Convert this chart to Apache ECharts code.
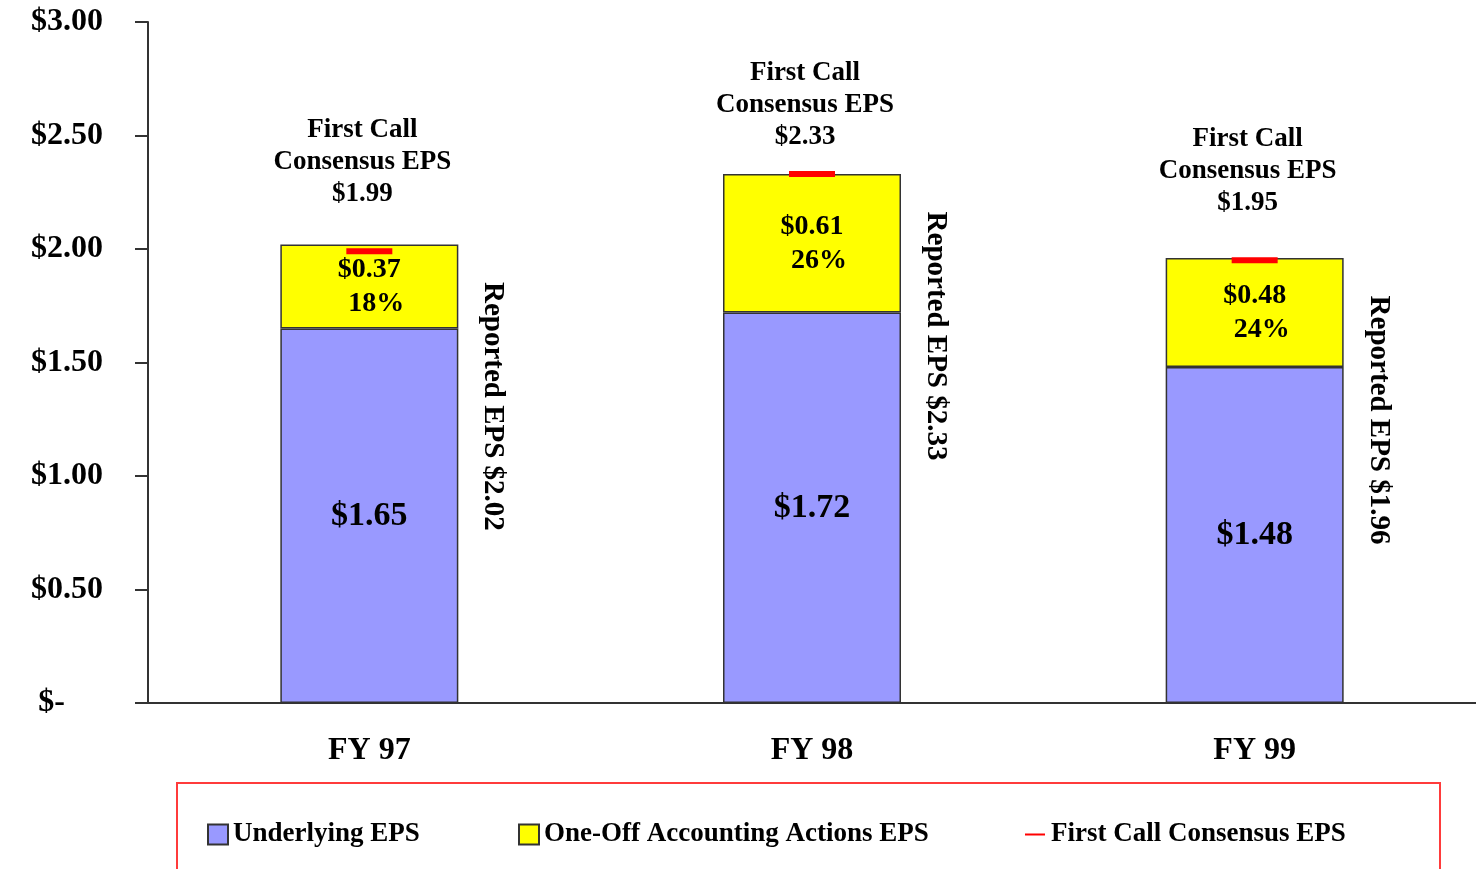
<!DOCTYPE html>
<html>
<head>
<meta charset="utf-8">
<script src="https://cdn.jsdelivr.net/npm/echarts@6/dist/echarts.min.js"></script>
<style>
  html, body { margin: 0; padding: 0; background: #fff; }
  #chart { width: 1476px; height: 869px; }
</style>
</head>
<body>
<div id="chart"></div>
<script>
const categories = ['FY 97', 'FY 98', 'FY 99'];
const underlying = [1.65, 1.72, 1.48];
const oneOff = [0.37, 0.61, 0.48];
const oneOffPct = ['18%', '26%', '24%'];
const consensus = [1.99, 2.33, 1.95];
const reported = [2.02, 2.33, 1.96];
const yTicks = [0, 0.5, 1, 1.5, 2, 2.5, 3];

const FONT = '"Liberation Serif", "DejaVu Serif", serif';
const money = (v) => '$' + v.toFixed(2);

const chart = echarts.init(document.getElementById('chart'));

const legendText = { color: '#000', fontFamily: FONT, fontWeight: 'bold', fontSize: 27 };

// the FY 98 consensus note sits closer to its marker in the original
const consensusData = consensus.map((v, i) => (i === 1 ? { value: v, label: { distance: 18 } } : v));

const option = {
  animation: false,
  grid: { left: 148, right: 0, top: 22, bottom: 166 },
  xAxis: {
    type: 'category',
    data: categories,
    axisLine: { lineStyle: { color: '#333', width: 2 } },
    axisTick: { length: 10, lineStyle: { color: '#333', width: 2 } },
    axisLabel: { color: '#000', fontFamily: FONT, fontWeight: 'bold', fontSize: 32, margin: 32 }
  },
  yAxis: {
    type: 'value',
    min: yTicks[0],
    max: yTicks[yTicks.length - 1],
    interval: 0.5,
    splitLine: { show: false },
    axisLine: { show: true, lineStyle: { color: '#333', width: 2 } },
    axisTick: { show: true, length: 13, lineStyle: { color: '#333', width: 2 } },
    axisLabel: {
      color: '#000', fontFamily: FONT, fontWeight: 'bold', fontSize: 32, margin: 45,
      formatter: (v) => v === 0 ? '{z|$-}' : money(v),
      rich: { z: { color: '#000', fontFamily: FONT, fontWeight: 'bold', fontSize: 32, padding: [0, 38, 0, 0] } }
    }
  },
  legend: [
    { left: 207, top: 821, padding: 0, itemWidth: 20, itemHeight: 20, textStyle: legendText,
      data: [{ name: 'Underlying EPS', icon: 'rect' }] },
    { left: 518, top: 821, padding: 0, itemWidth: 20, itemHeight: 20, textStyle: legendText,
      data: [{ name: 'One-Off Accounting Actions EPS', icon: 'rect' }] },
    { left: 1025, top: 821, padding: 0, itemWidth: 22, itemHeight: 20, textStyle: legendText,
      data: [{ name: 'First Call Consensus EPS', icon: 'path://M0,0M20,20M0,9L20,9L20,11L0,11Z' }] }
  ],
  graphic: [{
    type: 'rect',
    shape: { x: 177, y: 783, width: 1263, height: 110 },
    style: { fill: 'none', stroke: '#ff3b3b', lineWidth: 2 },
    silent: true
  }],
  series: [
    {
      name: 'Underlying EPS',
      type: 'bar',
      stack: 'eps',
      barWidth: 178,
      data: underlying,
      itemStyle: { color: '#9999ff', borderColor: '#333', borderWidth: 1.5 },
      label: {
        show: true, position: 'inside', color: '#000',
        fontFamily: FONT, fontWeight: 'bold', fontSize: 34,
        formatter: (p) => money(p.value)
      }
    },
    {
      name: 'One-Off Accounting Actions EPS',
      type: 'bar',
      stack: 'eps',
      barWidth: 178,
      data: oneOff,
      itemStyle: { color: '#ffff00', borderColor: '#333', borderWidth: 1.5 },
      label: {
        show: true, position: 'inside', color: '#000',
        fontFamily: FONT, fontWeight: 'bold', fontSize: 28, lineHeight: 34,
        formatter: (p) => money(p.value) + '\n  ' + oneOffPct[p.dataIndex]
      }
    },
    {
      name: 'First Call Consensus EPS',
      type: 'scatter',
      data: consensusData,
      symbol: 'rect',
      symbolSize: [46, 6],
      z: 5,
      itemStyle: { color: '#ff0000', opacity: 1 },
      label: {
        show: true, position: 'top', distance: 38, offset: [-7, 0], opacity: 1,
        color: '#000', fontFamily: FONT, fontWeight: 'bold', fontSize: 27, lineHeight: 32,
        align: 'center',
        formatter: (p) => 'First Call\nConsensus EPS\n' + money(p.value)
      }
    },
    {
      name: 'Reported EPS',
      type: 'scatter',
      data: reported,
      symbolSize: 1,
      silent: true,
      itemStyle: { color: 'transparent' },
      label: {
        show: true, position: [124, 38], rotate: -90, align: 'left', verticalAlign: 'middle',
        opacity: 1, color: '#000', fontFamily: FONT, fontWeight: 'bold', fontSize: 29,
        formatter: (p) => 'Reported EPS ' + money(p.value)
      }
    }
  ]
};

chart.setOption(option);
</script>
</body>
</html>
